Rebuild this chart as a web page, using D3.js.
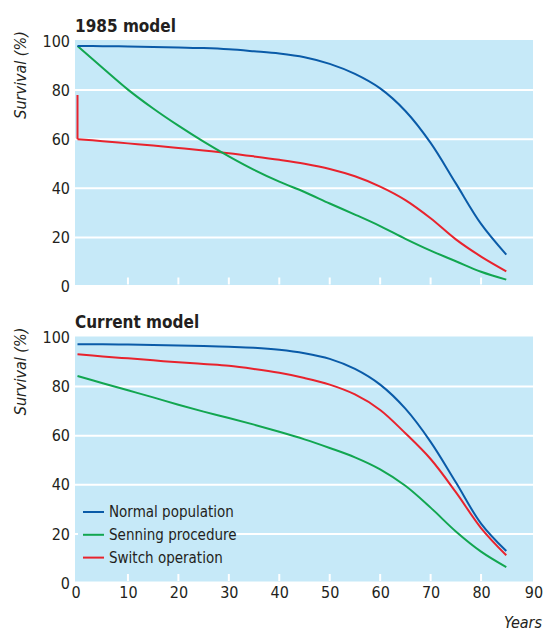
<!DOCTYPE html>
<html>
<head>
<meta charset="utf-8">
<script src="https://cdn.jsdelivr.net/npm/d3@7"></script>
<style>
  body { margin: 0; background: #fff; }
  text { font-family: "Liberation Sans Narrow", "DejaVu Sans Condensed", "Liberation Sans", sans-serif; fill: #231f20; }
</style>
</head>
<body>
<script>
//Ages shared by every curve
var years = [0, 5, 10, 15, 20, 25, 30, 35, 40, 45, 50, 55, 60, 65, 70, 75, 80, 85];

//1985 model
var normal1985  = [98, 97.9, 97.8, 97.6, 97.4, 97.1, 96.6, 95.8, 94.9, 93.4, 90.7, 86.6, 80.7, 71.5, 58.5, 42, 25.5, 13];
var senning1985 = [98, 89, 80.2, 72.5, 65.5, 59, 53, 47.5, 42.7, 38.5, 33.8, 29.3, 24.6, 19.4, 14.6, 10.3, 6, 2.8];
var switch1985  = [60, 59.2, 58.3, 57.4, 56.4, 55.4, 54.3, 53, 51.6, 50, 47.9, 44.9, 40.7, 35.2, 27.8, 19.2, 12.2, 6.2];
//early (operative) mortality of the switch operation: drop at age 0
var switch1985Start = 78;

//Current model
var normalNow  = [97.3, 97.2, 97.1, 96.9, 96.7, 96.5, 96.2, 95.8, 95, 93.6, 91.3, 87.2, 80.8, 71, 57.5, 41, 24.2, 13];
var senningNow = [84.3, 81.4, 78.5, 75.6, 72.6, 69.8, 67.2, 64.5, 61.6, 58.5, 55, 51.2, 46.3, 39.6, 30.7, 21, 12.8, 6.5];
var switchNow  = [93.2, 92.3, 91.5, 90.7, 89.9, 89.2, 88.5, 87.2, 85.6, 83.5, 80.8, 76.8, 70.5, 61, 50.5, 37, 22.4, 11.3];

var seriesNames = ["Normal population", "Senning procedure", "Switch operation"];
var yTicks = [0, 20, 40, 60, 80, 100];
var xTicks = [0, 10, 20, 30, 40, 50, 60, 70, 80, 90];

var colours = d3.scaleOrdinal()
  .domain(seriesNames)
  .range(["#0a5ba8", "#12a650", "#e8232d"]);

var width = 544, height = 631;

var svg = d3.select("body")
  .append("svg")
  .attr("width", width)
  .attr("height", height);

var x = d3.scaleLinear().domain([0, 90]).range([77.5, 531.5]);

function toPoints(values) {
  return values.map(function(v, i) { return { year: years[i], value: v }; });
}

var panels = [
  { title: "1985 model", top: 41, series: [normal1985, senning1985, switch1985], drop: switch1985Start },
  { title: "Current model", top: 337.5, series: [normalNow, senningNow, switchNow], drop: null }
];

panels.forEach(function(p, pi) {
  var y = d3.scaleLinear().domain([0, 100]).range([p.top + 245.5, p.top]);
  var g = svg.append("g");

  //plot background
  g.append("rect")
    .attr("x", 75)
    .attr("y", y(100) - 1)
    .attr("width", 458)
    .attr("height", y(0) - y(100) - 0.5)
    .attr("fill", "#c6e9f8");

  //white gridlines
  g.selectAll(".grid")
    .data(yTicks.slice(1, -1))
    .enter().append("line")
    .attr("x1", 75).attr("x2", 533)
    .attr("y1", function(d) { return y(d); })
    .attr("y2", function(d) { return y(d); })
    .attr("stroke", "#fff")
    .attr("stroke-width", 2);

  //small white ticks at the bottom of the plot
  g.selectAll(".xtick")
    .data(xTicks.slice(1, -1))
    .enter().append("line")
    .attr("x1", function(d) { return x(d); })
    .attr("x2", function(d) { return x(d); })
    .attr("y1", y(0) - 9).attr("y2", y(0) - 2)
    .attr("stroke", "#fff")
    .attr("stroke-width", 2);

  //y axis labels
  var yAxis = g.append("g")
    .attr("transform", "translate(70,0)")
    .call(d3.axisLeft(y).tickValues(yTicks).tickSize(0).tickPadding(0));
  yAxis.select(".domain").remove();
  yAxis.selectAll("text")
    .attr("fill", "#231f20")
    .style("font-size", "16px")
    .style("font-family", null);

  g.append("text")
    .attr("transform", "translate(26," + (p.top + 34) + ") rotate(-90)")
    .attr("text-anchor", "middle")
    .style("font-size", "16px")
    .style("font-style", "italic")
    .text("Survival (%)");

  g.append("text")
    .attr("x", 75)
    .attr("y", p.top - 9.5)
    .style("font-size", "17px")
    .style("font-weight", "bold")
    .text(p.title);

  var line = d3.line()
    .x(function(d) { return x(d.year); })
    .y(function(d) { return y(d.value); })
    .curve(d3.curveCatmullRom.alpha(0.5));

  //vertical drop for early mortality
  if (p.drop !== null) {
    g.append("path")
      .attr("d", d3.line()
        .x(function(d) { return x(d.year); })
        .y(function(d) { return y(d.value); })([{ year: 0, value: p.drop }, { year: 0, value: p.series[2][0] }]))
      .attr("fill", "none")
      .attr("stroke", colours(seriesNames[2]))
      .attr("stroke-width", 2);
  }

  //draw switch, senning, normal so blue sits on top
  [2, 1, 0].forEach(function(si) {
    g.append("path")
      .attr("d", line(toPoints(p.series[si])))
      .attr("fill", "none")
      .attr("stroke", colours(seriesNames[si]))
      .attr("stroke-width", 2);
  });

  if (pi === 1) {
    //x axis labels on the lower panel only
    var xAxis = g.append("g")
      .attr("transform", "translate(0," + (y(0) + 4) + ")")
      .call(d3.axisBottom(x).tickValues(xTicks).tickSize(0).tickPadding(0));
    xAxis.select(".domain").remove();
    xAxis.selectAll("text")
      .attr("fill", "#231f20")
      .attr("dy", "0.71em")
      .style("font-size", "16px")
      .style("font-family", null);
    xAxis.selectAll("text").filter(function(d) { return d === 0; }).attr("dx", -2);
    xAxis.selectAll("text").filter(function(d) { return d === 90; }).attr("dx", 2);

    g.append("text")
      .attr("x", 542)
      .attr("y", 628)
      .attr("text-anchor", "end")
      .style("font-size", "16px")
      .style("font-style", "italic")
      .text("Years");

    //legend, with its own background so the gridline stops behind it
    var legend = g.append("g");
    legend.append("rect")
      .attr("x", 78).attr("y", 500)
      .attr("width", 158).attr("height", 68)
      .attr("fill", "#c6e9f8");

    var rows = legend.selectAll(".row")
      .data(seriesNames)
      .enter().append("g")
      .attr("transform", function(d, i) { return "translate(83," + (512 + i * 22.8) + ")"; });
    rows.append("line")
      .attr("x1", 0).attr("x2", 21)
      .attr("stroke", function(d) { return colours(d); })
      .attr("stroke-width", 2);
    rows.append("text")
      .attr("x", 26)
      .attr("dy", "0.35em")
      .style("font-size", "15px")
      .text(function(d) { return d; });
  }
});
</script>
</body>
</html>
